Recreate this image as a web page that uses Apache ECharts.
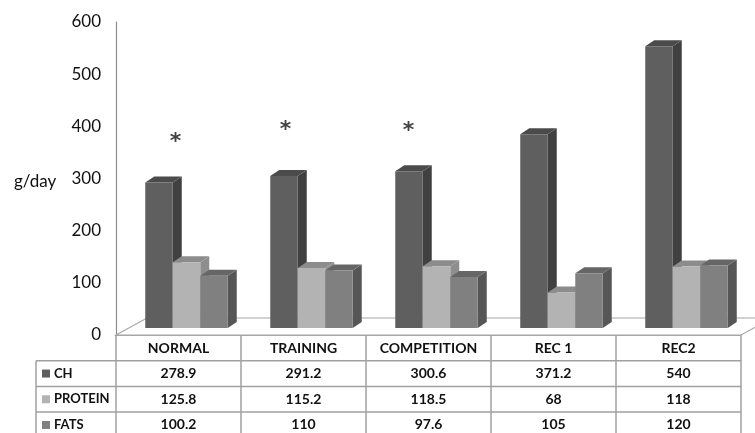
<!DOCTYPE html>
<html>
<head>
<meta charset="utf-8">
<script src="https://cdn.jsdelivr.net/npm/echarts@6/dist/echarts.min.js"></script>
<style>
  html, body { margin: 0; padding: 0; background: #fff; }
  #main { width: 755px; height: 433px; }
</style>
</head>
<body>
<div id="main"></div>
<script>
// data
const categories = ['NORMAL', 'TRAINING', 'COMPETITION', 'REC 1', 'REC2'];
const seriesNames = ['CH', 'PROTEIN', 'FATS'];
const chValues = [278.9, 291.2, 300.6, 371.2, 540];
const proteinValues = [125.8, 115.2, 118.5, 68, 118];
const fatsValues = [100.2, 110, 97.6, 105, 120];
const yTicks = { min: 0, max: 600, interval: 100 };
// significance marks (category index, height in g/day)
const starCats = [0, 1, 2];
const starLevels = [370, 393, 391];

const allValues = [chValues, proteinValues, fatsValues];

// face colours: front, side, top
const palette = [
    { front: '#5f5f5f', side: '#404040', top: '#4b4b4b' },
    { front: '#b3b3b3', side: '#8e8e8e', top: '#8c8c8c' },
    { front: '#808080', side: '#565656', top: '#666666' }
];

const FONT = 'Lato';
const SHIFT_X = 8, SHIFT_Y = -7;   // bars sit a bit back on the floor
const DX = 9, DY = -6;             // bar depth
const starNudge = [-3, -18, -20];

const chart = echarts.init(document.getElementById('main'));

function barRenderer(idx) {
    return function (params, api) {
        const cat = api.value(0);
        const val = api.value(1);
        const base = api.coord([cat, 0]);
        const top = api.coord([cat, val]);
        const band = api.size([1, 0])[0];
        const w = band * 0.22;
        const x0 = base[0] + SHIFT_X - 1.5 * w + idx * w;
        const x1 = x0 + w;
        const yb = base[1] + SHIFT_Y;
        const yt = top[1] + SHIFT_Y;
        const c = palette[idx];
        return {
            type: 'group',
            children: [
                {
                    type: 'polygon',
                    shape: { points: [[x1, yb], [x1 + DX, yb + DY], [x1 + DX, yt + DY], [x1, yt]] },
                    style: { fill: c.side }
                },
                {
                    type: 'polygon',
                    shape: { points: [[x0, yt], [x1, yt], [x1 + DX, yt + DY], [x0 + DX, yt + DY]] },
                    style: { fill: c.top }
                },
                {
                    type: 'rect',
                    shape: { x: x0, y: yt, width: w, height: yb - yt },
                    style: { fill: c.front }
                }
            ]
        };
    };
}

const barSeries = seriesNames.map((name, i) => ({
    name: name,
    type: 'custom',
    renderItem: barRenderer(i),
    encode: { x: 0, y: 1 },
    data: allValues[i].map((v, k) => [k, v]),
    z: 3
}));

chart.setOption({
    animation: false,
    title: {
        text: 'g/day',
        left: 9,
        top: 168,
        textStyle: { fontFamily: FONT, fontSize: 17, fontWeight: 'normal', color: '#111' }
    },
    grid: { left: 116, top: 22, width: 625, height: 313 },
    xAxis: {
        type: 'category',
        data: categories,
        axisLine: { show: true, lineStyle: { color: '#a6a6a6', width: 1.2 } },
        axisTick: { show: false },
        axisLabel: {
            interval: 0,
            margin: 6,
            fontFamily: FONT,
            fontSize: 14,
            fontWeight: 'bold',
            color: '#111'
        }
    },
    yAxis: {
        type: 'value',
        min: yTicks.min,
        max: yTicks.max,
        interval: yTicks.interval,
        axisLine: { show: true, lineStyle: { color: '#8c8c8c', width: 1.2 } },
        axisTick: { show: false },
        splitLine: { show: false },
        axisLabel: { margin: 15, fontFamily: FONT, fontSize: 17, color: '#111' }
    },
    series: barSeries.concat([{
        type: 'scatter',
        symbolSize: 0,
        data: starCats.map((c, i) => ({
            value: [c, starLevels[i]],
            label: { offset: [starNudge[i], 0] }
        })),
        label: {
            show: true,
            position: 'inside',
            formatter: '*',
            fontFamily: 'DejaVu Sans',
            fontSize: 22,
            fontWeight: 'bold',
            color: '#111'
        },
        z: 4
    }])
});

// floor + data table, laid out from the axis positions
function drawTable() {
    const lineColor = '#a0a0a0';
    const left = chart.convertToPixel({ xAxisIndex: 0 }, 0);
    const band = chart.convertToPixel({ xAxisIndex: 0 }, 1) - left;
    const x0 = left - band / 2;
    const x1 = x0 + band * categories.length;
    const y0 = chart.convertToPixel({ yAxisIndex: 0 }, 0);
    const rowH = 25.7;
    const labelX = 36;
    const bottom = 440;
    const els = [];

    // floor
    els.push({
        type: 'polygon',
        shape: { points: [[x0, y0], [x0 + 31, y0 - 17], [x1 + 31, y0 - 17], [x1, y0]] },
        style: { fill: '#fff', stroke: '#a6a6a6', lineWidth: 1.2 },
        z: 1
    });

    const hline = (xa, xb, y) => ({
        type: 'line', shape: { x1: xa, y1: y, x2: xb, y2: y },
        style: { stroke: lineColor, lineWidth: 1.5 }, z: 5
    });
    const vline = (x, ya, yb) => ({
        type: 'line', shape: { x1: x, y1: ya, x2: x, y2: yb },
        style: { stroke: lineColor, lineWidth: 1.5 }, z: 5
    });

    for (let r = 1; r <= seriesNames.length; r++) {
        els.push(hline(labelX, x1, y0 + r * rowH));
    }
    els.push(vline(labelX, y0 + rowH, bottom));
    for (let k = 0; k <= categories.length; k++) {
        els.push(vline(x0 + k * band, y0, bottom));
    }

    seriesNames.forEach((name, r) => {
        const cy = y0 + (r + 1.5) * rowH;
        els.push({
            type: 'rect',
            shape: { x: labelX + 6, y: cy - 4, width: 8, height: 8 },
            style: { fill: palette[r].front }, z: 5
        });
        els.push({
            type: 'text',
            x: labelX + 18, y: cy,
            style: {
                text: name, fontFamily: FONT, fontSize: 13, fontWeight: 'bold',
                fill: '#111', align: 'left', verticalAlign: 'middle'
            }, z: 5
        });
        allValues[r].forEach((v, k) => {
            els.push({
                type: 'text',
                x: x0 + (k + 0.5) * band, y: cy,
                style: {
                    text: String(v), fontFamily: FONT, fontSize: 14, fontWeight: 'bold',
                    fill: '#111', align: 'center', verticalAlign: 'middle'
                }, z: 5
            });
        });
    });

    chart.setOption({ graphic: { elements: els } });
}

drawTable();
</script>
</body>
</html>
